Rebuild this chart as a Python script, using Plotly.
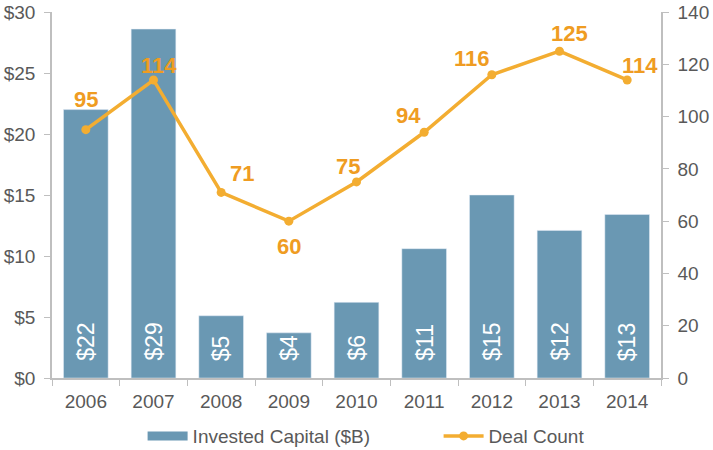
import plotly.graph_objects as go

# Data
years = ["2006", "2007", "2008", "2009", "2010", "2011", "2012", "2013", "2014"]
invested_capital = [22.0, 28.6, 5.1, 3.7, 6.2, 10.6, 15.0, 12.1, 13.4]
capital_labels = ["$22", "$29", "$5", "$4", "$6", "$11", "$15", "$12", "$13"]
deal_count = [95, 114, 71, 60, 75, 94, 116, 125, 114]

# label offsets (px) for the deal-count labels, Excel-like placement
label_dx = [0, 5, 21, 0, -9, -16, -20, 10, 13]
label_dy = [30, 14, 19, -25, 15, 17, 16, 18, 14]

bar_color = "#6A98B3"
line_color = "#F3AD31"
label_color = "#EF9C22"
axis_color = "#BFBFBF"
text_color = "#595959"
font = "Liberation Sans, Arial, sans-serif"

fig = go.Figure()

fig.add_trace(go.Bar(
    x=years, y=invested_capital, name="Invested Capital ($B)",
    marker_color=bar_color, width=0.66, yaxis="y", showlegend=False,
))

# legend stand-in for the bars: a wide flat swatch like the original
fig.add_trace(go.Scatter(
    x=[None], y=[None], name="Invested Capital ($B)", mode="lines",
    line=dict(color=bar_color, width=9), yaxis="y",
))

fig.add_trace(go.Scatter(
    x=years, y=deal_count, name="Deal Count", yaxis="y2",
    mode="lines+markers",
    line=dict(color=line_color, width=3.5),
    marker=dict(color=line_color, size=9),
))

annotations = []
# bar labels, rotated, at the base of each bar (x by category index)
for i, lab in enumerate(capital_labels):
    annotations.append(dict(
        x=i, y=0, xref="x", yref="y", text=lab, showarrow=False,
        textangle=-90, yanchor="bottom", yshift=15,
        font=dict(family=font, size=23, color="white"),
    ))
# deal count labels
for i, (v, dx, dy) in enumerate(zip(deal_count, label_dx, label_dy)):
    annotations.append(dict(
        x=i, y=v, xref="x", yref="y2", text="<b>%d</b>" % v, showarrow=False,
        xshift=dx, yshift=dy,
        font=dict(family=font, size=22, color=label_color),
    ))

axis_style = dict(
    showgrid=False, zeroline=False, showline=True, linecolor=axis_color,
    linewidth=1.5, ticks="outside", ticklen=6, tickcolor=axis_color,
    tickfont=dict(size=19, color=text_color), automargin=False,
    ticklabeloverflow="allow",
)

fig.update_layout(
    width=713, height=450,
    margin=dict(l=52, r=52, t=12, b=72),
    paper_bgcolor="white", plot_bgcolor="white",
    font=dict(family=font, size=19, color=text_color),
    xaxis=dict(type="category", range=[-0.5, 8.5], tickson="boundaries",
               ticklabelstandoff=5, **axis_style),
    yaxis=dict(range=[0, 30], dtick=5, tickprefix="$", ticklabelstandoff=5,
               **axis_style),
    yaxis2=dict(range=[0, 140], dtick=20, overlaying="y", side="right",
                ticklabelstandoff=5, **axis_style),
    showlegend=True,
    legend=dict(
        orientation="h", xref="container", yref="container",
        x=0.2, xanchor="left", y=0.031, yanchor="middle",
        font=dict(size=19, color=text_color), itemwidth=40,
        entrywidth=241, entrywidthmode="pixels",
    ),
    annotations=annotations,
)

# drop the default 8px page margin so the figure sits at the window corner
fig.write_html("out.html", config={"displayModeBar": False},
               post_script="document.body.style.margin='0';")
